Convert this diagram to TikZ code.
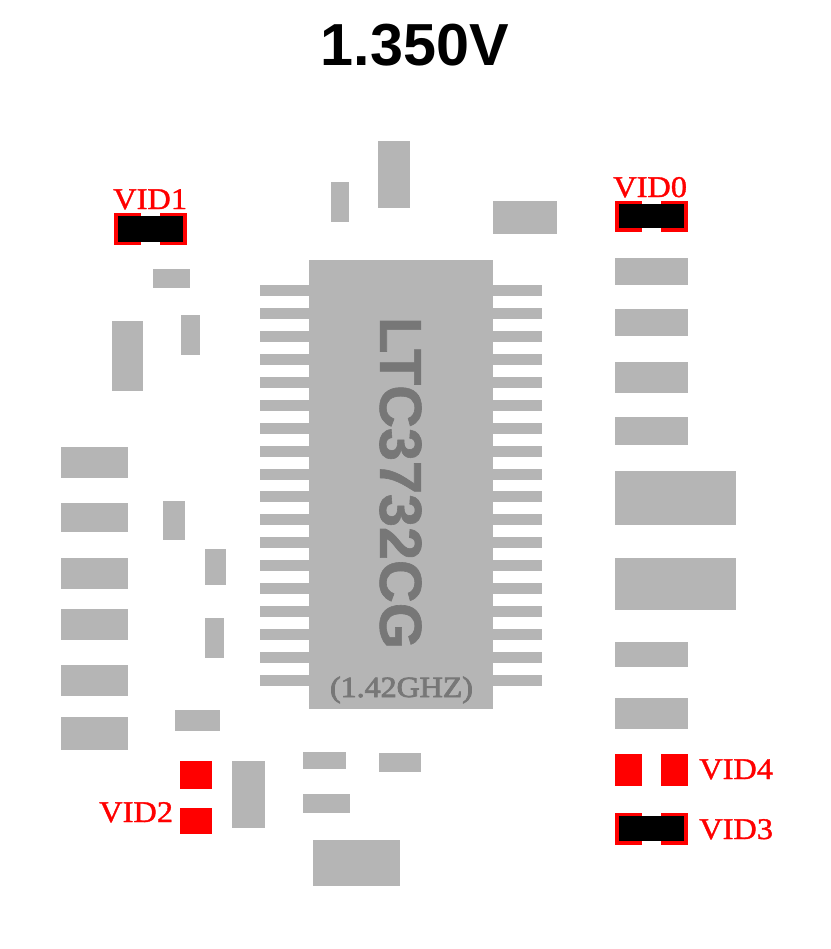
\documentclass[tikz,border=0pt]{standalone}
\usepackage{fontspec}
\setmainfont{Liberation Serif}
\newfontfamily\arialfont{Liberation Sans}
\newfontfamily\arialthick[BoldFont={Liberation Sans Bold},BoldFeatures={FakeBold=1.0}]{Liberation Sans}
\newfontfamily\thickserif[FakeBold=2.5]{Liberation Serif}
\newfontfamily\thickvid[FakeBold=1.2]{Liberation Serif}
\definecolor{padgray}{HTML}{B5B5B5}
\definecolor{chiptext}{HTML}{777777}
\definecolor{vidred}{HTML}{FF0000}
\tikzset{
  vidlabel/.style={text=vidred,font=\thickvid\fontsize{22.5pt}{22.5pt}\selectfont,inner sep=0pt,anchor=base west},
}
\newcommand{\padbox}[4]{\fill[padgray] (#1,#2) rectangle (#3,#4);}
\newcommand{\redbox}[4]{\fill[vidred] (#1,#2) rectangle (#3,#4);}
\newcommand{\blackbox}[4]{\fill[black] (#1,#2) rectangle (#3,#4);}
\newcommand{\vidtext}[1]{\scalebox{1.08}[1]{#1}}
\begin{document}
\begin{tikzpicture}[x=0.75pt,y=-0.75pt]
\useasboundingbox[fill=white] (0,0) rectangle (831,949);
\padbox{309}{260}{493}{709}
\foreach \i in {0,...,17}{
  \pgfmathsetmacro\ya{285+22.94*\i}
  \pgfmathsetmacro\yb{\ya+11}
  \padbox{260}{\ya}{309}{\yb}
  \padbox{493}{\ya}{542}{\yb}
}
\padbox{331}{182}{349}{222}
\padbox{378}{141}{410}{208}
\padbox{493}{201}{557}{234}
\padbox{153}{269}{190}{288}
\padbox{181}{315}{200}{355}
\padbox{112}{321}{143}{391}
\padbox{61}{447}{128}{478}
\padbox{61}{503}{128}{532}
\padbox{61}{558}{128}{589}
\padbox{61}{609}{128}{640}
\padbox{61}{665}{128}{696}
\padbox{61}{717}{128}{750}
\padbox{163}{501}{185}{540}
\padbox{205}{549}{226}{585}
\padbox{205}{618}{224}{658}
\padbox{175}{710}{220}{731}
\padbox{232}{761}{265}{828}
\padbox{303}{752}{346}{769}
\padbox{379}{753}{421}{772}
\padbox{303}{794}{350}{813}
\padbox{313}{840}{400}{886}
\padbox{615}{258}{688}{285}
\padbox{615}{309}{688}{336}
\padbox{615}{362}{688}{393}
\padbox{615}{417}{688}{445}
\padbox{615}{471}{736}{525}
\padbox{615}{558}{736}{610}
\padbox{615}{642}{688}{667}
\padbox{615}{698}{688}{729}
% VID pads
\redbox{114}{213}{141}{245}\redbox{160}{213}{187}{245}\blackbox{118}{216}{183}{242}
\redbox{615}{201}{642}{232}\redbox{661}{201}{688}{232}\blackbox{619}{204}{684}{228}
\redbox{615}{813}{642}{845}\redbox{661}{813}{688}{845}\blackbox{619}{816}{684}{841}
\redbox{615}{754}{642}{786}\redbox{661}{754}{688}{786}
\redbox{180}{761}{212}{789}\redbox{180}{808}{212}{834}
% texts
\node[inner sep=0pt,font=\arialfont\bfseries\fontsize{44.5pt}{44.5pt}\selectfont] (title) at (415,45) {1.350V};
\node[inner sep=0pt,rotate=-90,text=chiptext,font=\arialthick\bfseries\fontsize{44.5pt}{44.5pt}\selectfont] (chip) at (400.5,483) {\scalebox{1.0}[1]{LTC3732CG}};
\node[inner sep=0pt,anchor=base,text=chiptext,font=\thickserif\fontsize{22pt}{22pt}\selectfont] (speed) at (401.5,697) {\scalebox{1.09}[1]{(1.42GHZ)}};
\node[vidlabel] (vid1) at (113,209) {\vidtext{VID1}};
\node[vidlabel] (vid0) at (613,197) {\vidtext{VID0}};
\node[vidlabel] (vid4) at (699,779) {\vidtext{VID4}};
\node[vidlabel] (vid3) at (699,839) {\vidtext{VID3}};
\node[vidlabel] (vid2) at (99,822) {\vidtext{VID2}};
\end{tikzpicture}
\end{document}
